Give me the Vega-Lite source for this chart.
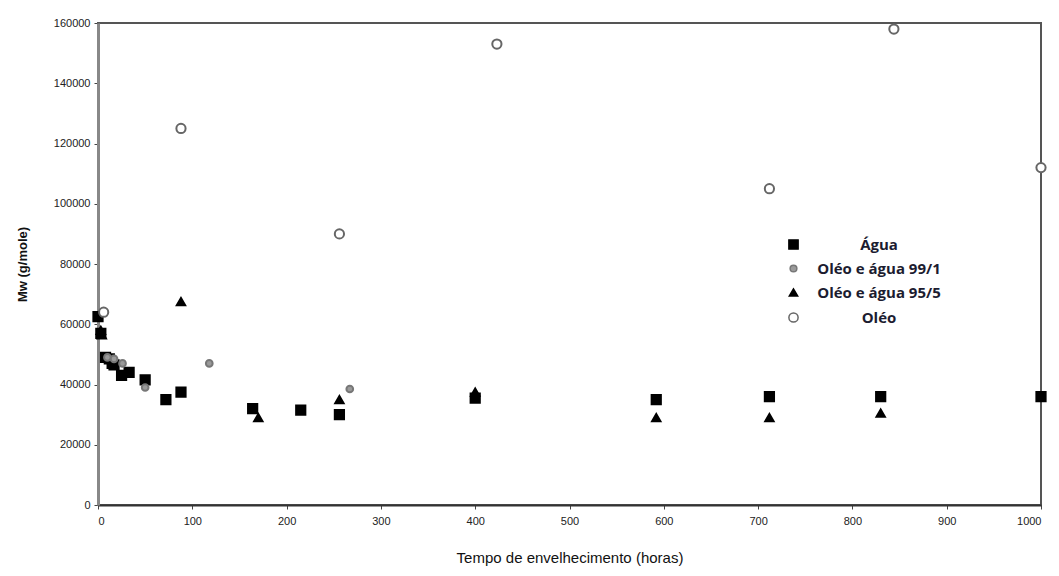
{
  "$schema": "https://vega.github.io/schema/vega-lite/v6.json",
  "width": 943,
  "height": 482,
  "autosize": {"type": "none"},
  "padding": {"left": 98, "top": 23, "right": 18, "bottom": 71},
  "background": "white",
  "config": {
    "view": {"stroke": "#555", "strokeWidth": 2},
    "axis": {"grid": false, "labelFont": "Liberation Sans", "labelFontSize": 11, "labelColor": "#222", "titleFont": "Liberation Sans", "titleColor": "#111", "tickColor": "#444", "tickSize": 4}
  },
  "data": {
    "values": [
      {"t": 0, "mw": 62500, "serie": "Água"},
      {"t": 3, "mw": 57000, "serie": "Água"},
      {"t": 8, "mw": 49000, "serie": "Água"},
      {"t": 12, "mw": 48500, "serie": "Água"},
      {"t": 15, "mw": 47000, "serie": "Água"},
      {"t": 17, "mw": 46500, "serie": "Água"},
      {"t": 25, "mw": 43000, "serie": "Água"},
      {"t": 33, "mw": 44000, "serie": "Água"},
      {"t": 50, "mw": 41500, "serie": "Água"},
      {"t": 72, "mw": 35000, "serie": "Água"},
      {"t": 88, "mw": 37500, "serie": "Água"},
      {"t": 164, "mw": 32000, "serie": "Água"},
      {"t": 215, "mw": 31500, "serie": "Água"},
      {"t": 256, "mw": 30000, "serie": "Água"},
      {"t": 400, "mw": 35500, "serie": "Água"},
      {"t": 592, "mw": 35000, "serie": "Água"},
      {"t": 712, "mw": 36000, "serie": "Água"},
      {"t": 830, "mw": 36000, "serie": "Água"},
      {"t": 1000, "mw": 36000, "serie": "Água"},
      {"t": 10, "mw": 49000, "serie": "Oléo e água 99/1"},
      {"t": 17, "mw": 48500, "serie": "Oléo e água 99/1"},
      {"t": 26, "mw": 47000, "serie": "Oléo e água 99/1"},
      {"t": 50, "mw": 39000, "serie": "Oléo e água 99/1"},
      {"t": 118, "mw": 47000, "serie": "Oléo e água 99/1"},
      {"t": 267, "mw": 38500, "serie": "Oléo e água 99/1"},
      {"t": 3, "mw": 58000, "serie": "Oléo e água 95/5"},
      {"t": 4, "mw": 56500, "serie": "Oléo e água 95/5"},
      {"t": 88, "mw": 67500, "serie": "Oléo e água 95/5"},
      {"t": 170, "mw": 29000, "serie": "Oléo e água 95/5"},
      {"t": 256, "mw": 35000, "serie": "Oléo e água 95/5"},
      {"t": 400, "mw": 37500, "serie": "Oléo e água 95/5"},
      {"t": 592, "mw": 29000, "serie": "Oléo e água 95/5"},
      {"t": 712, "mw": 29000, "serie": "Oléo e água 95/5"},
      {"t": 830, "mw": 30500, "serie": "Oléo e água 95/5"},
      {"t": 6, "mw": 64000, "serie": "Oléo"},
      {"t": 88, "mw": 125000, "serie": "Oléo"},
      {"t": 256, "mw": 90000, "serie": "Oléo"},
      {"t": 423, "mw": 153000, "serie": "Oléo"},
      {"t": 712, "mw": 105000, "serie": "Oléo"},
      {"t": 844, "mw": 158000, "serie": "Oléo"},
      {"t": 1000, "mw": 112000, "serie": "Oléo"}
    ]
  },
  "mark": {"type": "point", "filled": true, "strokeWidth": 2, "opacity": 1},
  "encoding": {
    "x": {
      "field": "t", "type": "quantitative",
      "scale": {"domain": [0, 1000], "nice": false},
      "axis": {"values": [0, 100, 200, 300, 400, 500, 600, 700, 800, 900, 1000], "format": "d", "title": "Tempo de envelhecimento (horas)", "titleFontSize": 15, "titleFontWeight": "normal", "titlePadding": 24, "labelPadding": 6, "domainColor": "#333", "domainWidth": 2}
    },
    "y": {
      "field": "mw", "type": "quantitative",
      "scale": {"domain": [0, 160000], "nice": false},
      "axis": {"values": [0, 20000, 40000, 60000, 80000, 100000, 120000, 140000, 160000], "format": "d", "title": "Mw (g/mole)", "titleFontSize": 13, "titleFontWeight": "bold", "titlePadding": 24, "labelPadding": 4, "domainColor": "#888", "domainWidth": 3}
    },
    "shape": {
      "field": "serie", "type": "nominal",
      "scale": {"domain": ["Água", "Oléo e água 99/1", "Oléo e água 95/5", "Oléo"], "range": ["square", "circle", "triangle-up", "circle"]},
      "legend": {"title": null, "orient": "none", "legendX": 688, "legendY": 214, "labelFont": "Open Sans", "labelFontSize": 15, "labelFontWeight": "bold", "labelColor": "#1c1c30", "labelAlign": "center", "labelOffset": 78, "rowPadding": 8, "labelLimit": 300}
    },
    "fill": {
      "field": "serie", "type": "nominal",
      "scale": {"domain": ["Água", "Oléo e água 99/1", "Oléo e água 95/5", "Oléo"], "range": ["#000000", "#9a9a9a", "#000000", "#ffffff"]},
      "legend": {"title": null}
    },
    "stroke": {
      "field": "serie", "type": "nominal",
      "scale": {"domain": ["Água", "Oléo e água 99/1", "Oléo e água 95/5", "Oléo"], "range": ["#000000", "#777777", "#000000", "#666666"]},
      "legend": {"title": null}
    },
    "size": {
      "field": "serie", "type": "nominal",
      "scale": {"type": "ordinal", "domain": ["Água", "Oléo e água 99/1", "Oléo e água 95/5", "Oléo"], "range": [85, 45, 70, 85]},
      "legend": {"title": null}
    }
  }
}
